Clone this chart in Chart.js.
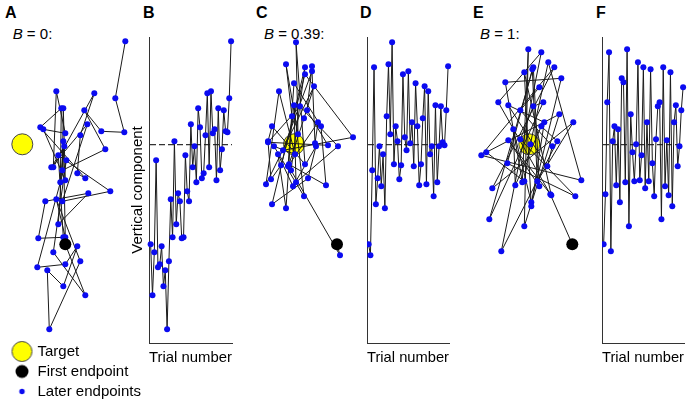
<!DOCTYPE html>
<html><head><meta charset="utf-8">
<script src="https://cdn.jsdelivr.net/npm/chart.js@4.4.1/dist/chart.umd.min.js"></script>
<style>
html,body{margin:0;padding:0;background:#fff;width:691px;height:405px;overflow:hidden;position:relative;font-family:"Liberation Sans",Arial,Helvetica,sans-serif;color:#000;}
.lbl{position:absolute;font-size:16px;font-weight:bold;line-height:16px;}
.bl{position:absolute;font-size:15px;line-height:15px;white-space:nowrap;}
canvas{position:absolute;}
</style></head><body>
<div class="lbl" style="left:5px;top:5px">A</div>
<div class="lbl" style="left:143px;top:5px">B</div>
<div class="lbl" style="left:256px;top:5px">C</div>
<div class="lbl" style="left:360px;top:5px">D</div>
<div class="lbl" style="left:473px;top:5px">E</div>
<div class="lbl" style="left:596px;top:5px">F</div>
<div class="bl" style="left:12.7px;top:25.7px"><i>B</i> = 0:</div>
<div class="bl" style="left:264px;top:25.7px"><i>B</i> = 0.39:</div>
<div class="bl" style="left:480px;top:25.7px"><i>B</i> = 1:</div>

<canvas id="cA" width="145" height="372" style="left:9px;top:37px"></canvas>
<canvas id="cB" width="113" height="332" style="left:125px;top:37px"></canvas>
<canvas id="cC" width="108" height="306" style="left:257px;top:37px"></canvas>
<canvas id="cD" width="88" height="332" style="left:367px;top:37px"></canvas>
<canvas id="cE" width="123" height="306" style="left:472px;top:37px"></canvas>
<canvas id="cF" width="88" height="332" style="left:602px;top:37px"></canvas>

<script>
// ---- data ----
const trials = [1,2,3,4,5,6,7,8,9,10,11,12,13,14,15,16,17,18,19,20,21,22,23,24,25,26,27,28,29,30,31,32,33,34,35,36,37,38,39,40,41,42,43,44,45];
const TARGET_H = 0;
const TARGET_V = 0;

// B = 0 (panels A, B)
const vertB = [-100,-151,-108,-16,-123,-120,-102,-142,-126,-185,-117,-55,-93,3,-80,-49,-57,-94,-93,-11,-47,-57,20,-23,-2,-38,36,17,-34,-29,9,51,-23,53,11,15,-36,36,-26,-5,34,13,12,46,103];
const horA  = [43,63,31,44,15,43,55,41,25,27,58,34,43,41,36,66,23,16,41,36,88,40,65,29,42,38,39,18,63,55,58,72,31,34,43,21,43,41,40,83,62,79,102,93,103];

// B = 0.39 (panels C, D)
const vertD = [-100,-111,-26,77,-60,-34,-2,-42,-10,-64,28,80,10,102,-20,18,3,-35,-21,70,7,-6,73,1,22,-22,61,18,-41,-20,26,58,-40,53,-10,-2,-52,39,-38,-2,38,2,-1,34,78];
const horC  = [43,46,-3,11,-22,14,22,-1,-16,-8,-2,-8,4,2,11,-22,-26,-23,-13,11,59,-11,18,21,24,-6,0,27,32,-5,10,20,-28,-15,1,-20,10,0,2,44,6,-26,34,13,18];

// B = 1 (panels E, F)
const vertF = [-100,-50,42,92,-107,3,18,-41,15,-58,66,62,-38,95,-82,30,-8,-37,0,82,-36,-11,77,-44,22,-37,75,-19,-52,5,38,42,-75,77,-42,4,-51,72,-62,22,39,-22,-2,34,57];
const horE  = [43,21,-31,12,-28,28,12,-14,-16,2,32,-24,-7,-1,-5,30,-43,-5,1,19,52,-48,25,-37,44,8,3,-22,46,-9,4,14,-40,4,10,-21,22,-5,2,15,-21,18,23,-9,10];

const LEGEND_LABELS = ['Target','First endpoint','Later endpoints'];

// ---- styling ----
Chart.defaults.font.family = '"Liberation Sans", Arial, Helvetica, sans-serif';
Chart.defaults.color = '#000';
Chart.defaults.animation = false;
const LINE = '#1a1a1a';
const DOT = '#0b0bf0';
const YELLOW = '#ffff00';
const V_RANGE = [-198.7, 107.3];
const T_RANGE = [0.1, 45.5];

function pathDataset(hor, vert) {
  return {type:'scatter', label:LEGEND_LABELS[2], data: hor.map((h,i)=>({x:h, y:vert[i]})), showLine:true,
    borderColor:LINE, borderWidth:1, pointRadius:3, pointHoverRadius:3, pointBackgroundColor:DOT,
    pointBorderWidth:0, clip:false, order:2};
}
function targetDataset() {
  return {type:'scatter', label:LEGEND_LABELS[0], data:[{x:TARGET_H, y:TARGET_V}], pointRadius:10.5, pointHoverRadius:10.5,
    pointBackgroundColor:YELLOW, pointBorderColor:'#444', pointBorderWidth:1, clip:false, order:3};
}
function firstDataset(hor, vert) {
  return {type:'scatter', label:LEGEND_LABELS[1], data:[{x:hor[0], y:vert[0]}], pointRadius:6, pointHoverRadius:6,
    pointBackgroundColor:'#000', pointBorderWidth:0, clip:false, order:1};
}

function dotCanvas(r, fill, stroke) {
  const s = Math.ceil(2*r + 3);
  const c = document.createElement('canvas');
  c.width = s; c.height = s;
  const g = c.getContext('2d');
  g.beginPath(); g.arc(s/2, s/2, r, 0, Math.PI*2);
  g.fillStyle = fill; g.fill();
  if (stroke) { g.lineWidth = 1; g.strokeStyle = stroke; g.stroke(); }
  return c;
}

function spatial(id, hor, vert, xr, yr, legend, pad) {
  return new Chart(document.getElementById(id), {
    type:'scatter',
    data:{datasets:[targetDataset(), pathDataset(hor, vert), firstDataset(hor, vert)]},
    options:{responsive:false, devicePixelRatio:1, animation:false, events:[],
      layout:{padding: pad || 0, autoPadding:false},
      scales:{
        x:{type:'linear', display:false, min:xr[0], max:xr[1]},
        y:{type:'linear', display:false, min:yr[0], max:yr[1]}
      },
      plugins:{legend: legend || {display:false}, tooltip:{enabled:false}}
    }
  });
}

function series(id, vert, withTitle) {
  return new Chart(document.getElementById(id), {
    type:'line',
    data:{datasets:[{data: trials.map((t,i)=>({x:t, y:vert[i]})), borderColor:LINE, borderWidth:1,
      pointRadius:3, pointHoverRadius:3, pointBackgroundColor:DOT, pointBorderWidth:0, tension:0, clip:false}]},
    options:{responsive:false, devicePixelRatio:1, animation:false, events:[],
      layout:{padding:{left:0, right:6, top:0, bottom:0}, autoPadding:false},
      scales:{
        x:{type:'linear', min:T_RANGE[0], max:T_RANGE[1],
          ticks:{display:false}, grid:{display:false, drawTicks:false},
          border:{display:true, color:'#333', width:1},
          title:{display:true, text:'Trial number', color:'#000', font:{size:15}, padding:{top:6, bottom:2}}},
        y:{type:'linear', min:V_RANGE[0], max:V_RANGE[1],
          ticks:{display:false},
          afterBuildTicks:(axis)=>{ axis.ticks = [{value:TARGET_V}]; },
          grid:{display:true, drawTicks:false, color:'#333', lineWidth:1.2},
          border:{display:true, color:'#333', width:1, dash:[6,3]},
          title:{display:withTitle, text:'Vertical component', color:'#000', font:{size:15}, padding:{top:4, bottom:2}}}
      },
      plugins:{legend:{display:false}, tooltip:{enabled:false}}
    }
  });
}

const legendMarks = [dotCanvas(10, YELLOW, '#444'), dotCanvas(6.5, '#000'), dotCanvas(2.7, DOT)];
const legendA = {
  display:true, position:'bottom', align:'start',
  labels:{
    usePointStyle:true, pointStyleWidth:16, padding:5, color:'#000', font:{size:15},
    generateLabels:()=>LEGEND_LABELS.map((t,i)=>({text:t, pointStyle:legendMarks[i], fillStyle:'#000',
      strokeStyle:'#000', lineWidth:0, hidden:false, fontColor:'#000', datasetIndex:i}))
  }
};

spatial('cA', horA, vertB, [-13.3, 131.7], [-194.7, 107.3], legendA);
series('cB', vertB, true);
spatial('cC', horC, vertD, [-32, 66], V_RANGE, null, {left:5, right:5, top:0, bottom:0});
series('cD', vertD, false);
spatial('cE', horE, vertF, [-51.3, 60.7], V_RANGE, null, {left:6, right:5, top:0, bottom:0});
series('cF', vertF, false);
</script>
</body></html>
